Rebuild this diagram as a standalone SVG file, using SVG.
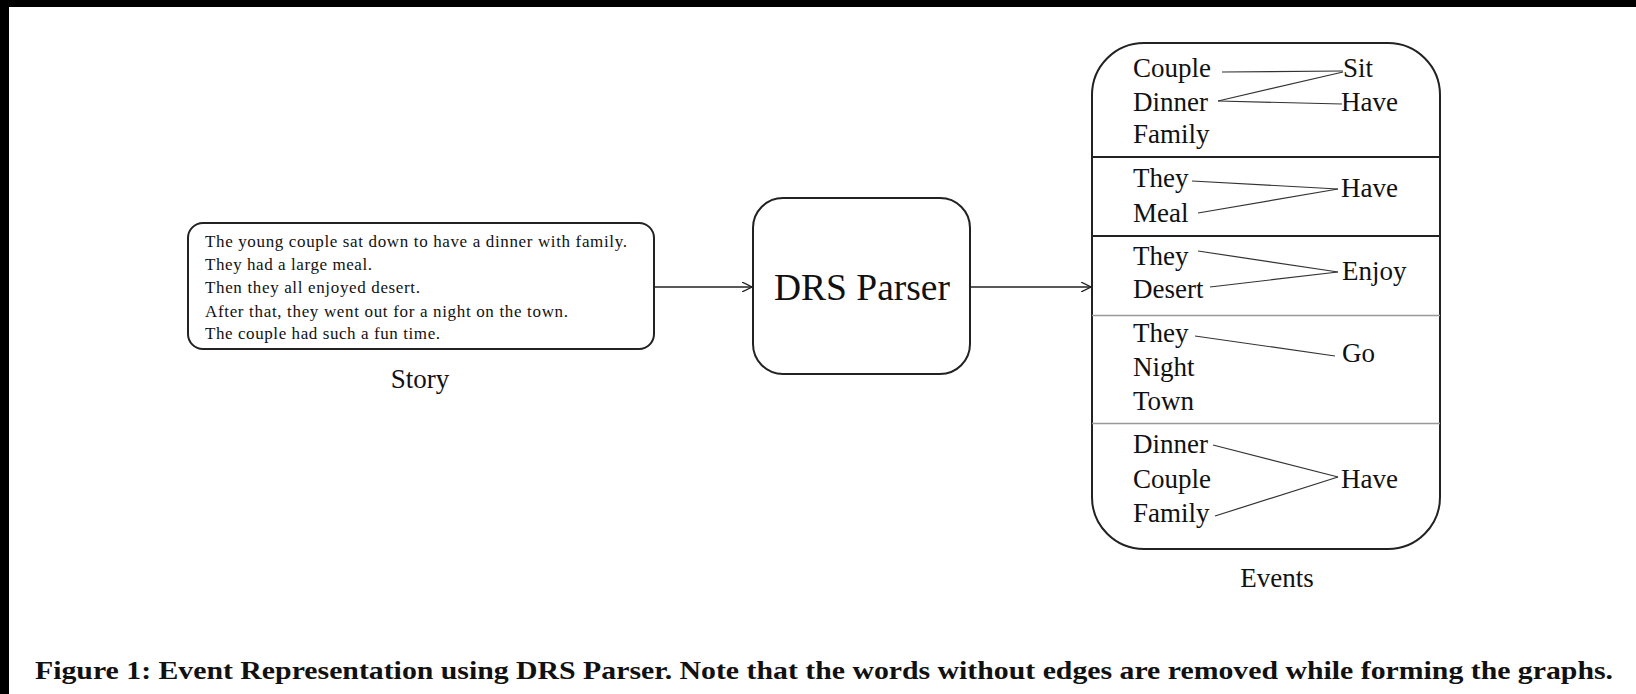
<svg xmlns="http://www.w3.org/2000/svg" width="1636" height="694" viewBox="0 0 1636 694">
  <style>
    .box { fill: #fff; stroke: #222; stroke-width: 2; }
    .story { font-family: "Liberation Serif", "Times New Roman", serif; font-size: 17px; fill: #111; }
    .word { font-family: "Liberation Serif", "Times New Roman", serif; font-size: 27px; fill: #111; }
    .label { font-family: "Liberation Serif", "Times New Roman", serif; font-size: 27px; fill: #111; text-anchor: middle; }
    .title { font-family: "Liberation Serif", "Times New Roman", serif; font-size: 37.5px; fill: #111; text-anchor: middle; }
    .caption { font-family: "Liberation Serif", "Times New Roman", serif; font-size: 26px; font-weight: bold; fill: #111; }
    .flow { stroke: #222; stroke-width: 1.3; fill: none; }
    .edge { stroke: #333; stroke-width: 1.2; fill: none; }
    .div-dark { stroke: #222; stroke-width: 2; }
    .div-light { stroke: #999; stroke-width: 1.5; }
  </style>
  <defs>
    <marker id="arrow" viewBox="0 0 10 10" refX="10" refY="5" markerWidth="10" markerHeight="10" markerUnits="userSpaceOnUse" orient="auto">
      <path d="M0,0 L10,5 L0,10" fill="none" stroke="#222" stroke-width="1.3"/>
    </marker>
  </defs>

  <!-- page background and dark frame edges -->
  <rect x="0" y="0" width="1636" height="694" fill="#fff"/>
  <rect x="0" y="0" width="1636" height="7" fill="#000"/>
  <rect x="0" y="0" width="9" height="694" fill="#000"/>

  <!-- input story -->
  <g id="story">
    <rect class="box" x="188" y="223" width="466" height="126" rx="15"/>
    <text class="story" x="205" y="247" textLength="422" lengthAdjust="spacing">The young couple sat down to have a dinner with family.</text>
    <text class="story" x="205" y="270" textLength="167" lengthAdjust="spacing">They had a large meal.</text>
    <text class="story" x="205" y="293" textLength="215" lengthAdjust="spacing">Then they all enjoyed desert.</text>
    <text class="story" x="205" y="317" textLength="363" lengthAdjust="spacing">After that, they went out for a night on the town.</text>
    <text class="story" x="205" y="339" textLength="235" lengthAdjust="spacing">The couple had such a fun time.</text>
    <text class="label" x="420" y="388">Story</text>
  </g>

  <!-- parser -->
  <g id="drs-parser">
    <rect class="box" x="753" y="198" width="217" height="176" rx="30"/>
    <text class="title" x="862" y="300">DRS Parser</text>
  </g>

  <!-- extracted events -->
  <g id="events">
    <rect class="box" x="1092" y="43" width="348" height="506" rx="52" stroke-width="2.4"/>
    <line class="div-dark" x1="1092" y1="157" x2="1440" y2="157"/>
    <line class="div-dark" x1="1092" y1="236" x2="1440" y2="236"/>
    <line class="div-light" x1="1092" y1="315.5" x2="1440" y2="315.5"/>
    <line class="div-light" x1="1092" y1="423.5" x2="1440" y2="423.5"/>

    <g id="event-1">
      <text class="word" x="1133" y="77">Couple</text>
      <text class="word" x="1133" y="111">Dinner</text>
      <text class="word" x="1133" y="143">Family</text>
      <text class="word" x="1343" y="77">Sit</text>
      <text class="word" x="1341" y="111">Have</text>
    </g>
    <g id="event-2">
      <text class="word" x="1133" y="187">They</text>
      <text class="word" x="1133" y="222">Meal</text>
      <text class="word" x="1341" y="197">Have</text>
    </g>
    <g id="event-3">
      <text class="word" x="1133" y="265">They</text>
      <text class="word" x="1133" y="298">Desert</text>
      <text class="word" x="1342" y="280">Enjoy</text>
    </g>
    <g id="event-4">
      <text class="word" x="1133" y="342">They</text>
      <text class="word" x="1133" y="376">Night</text>
      <text class="word" x="1133" y="410">Town</text>
      <text class="word" x="1342" y="362">Go</text>
    </g>
    <g id="event-5">
      <text class="word" x="1133" y="453">Dinner</text>
      <text class="word" x="1133" y="488">Couple</text>
      <text class="word" x="1133" y="522">Family</text>
      <text class="word" x="1341" y="488">Have</text>
    </g>
    <text class="label" x="1277" y="587">Events</text>
  </g>

  <!-- connectors -->
  <g id="connectors">
    <line class="flow" x1="654" y1="287" x2="752" y2="287" marker-end="url(#arrow)"/>
    <line class="flow" x1="970" y1="287" x2="1091" y2="287" marker-end="url(#arrow)"/>

    <line class="edge" x1="1222" y1="72" x2="1343" y2="71"/>
    <line class="edge" x1="1218" y1="101" x2="1343" y2="72"/>
    <line class="edge" x1="1218" y1="101" x2="1342" y2="104"/>

    <line class="edge" x1="1192" y1="181" x2="1338" y2="189"/>
    <line class="edge" x1="1198" y1="213" x2="1338" y2="189"/>

    <line class="edge" x1="1198" y1="251" x2="1338" y2="272"/>
    <line class="edge" x1="1210" y1="287" x2="1338" y2="272"/>

    <line class="edge" x1="1195" y1="336" x2="1335" y2="356"/>

    <line class="edge" x1="1213" y1="445" x2="1338" y2="477"/>
    <line class="edge" x1="1215" y1="516" x2="1338" y2="477"/>
  </g>

  <!-- caption -->
  <text class="caption" x="35" y="679" textLength="1578" lengthAdjust="spacingAndGlyphs">Figure 1: Event Representation using DRS Parser. Note that the words without edges are removed while forming the graphs.</text>
</svg>
